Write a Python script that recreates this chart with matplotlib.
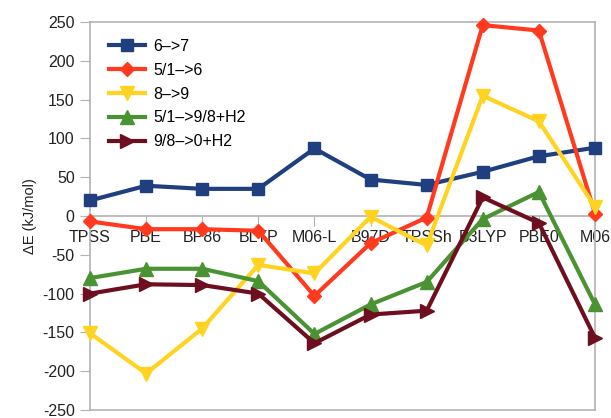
import matplotlib
matplotlib.use("Agg")
import matplotlib.pyplot as plt

plt.rcParams['font.family'] = ['Liberation Sans', 'DejaVu Sans']
plt.rcParams['axes.unicode_minus'] = False

categories = ["TPSS", "PBE", "BP86", "BLYP", "M06-L", "B97D", "TPSSh", "B3LYP", "PBE0", "M06"]
s_6_7 = [20, 39, 35, 35, 87, 47, 40, 57, 77, 88]
s_51_6 = [-7, -17, -17, -19, -103, -35, -2, 246, 239, 3]
s_8_9 = [-151, -203, -145, -63, -74, -1, -38, 155, 122, 12]
s_51_98h2 = [-80, -68, -68, -84, -152, -114, -85, -4, 31, -114]
s_98_0h2 = [-100, -88, -89, -100, -164, -127, -122, 24, -9, -157]
labels = ["6\u2013>7", "5/1\u2013>6", "8\u2013>9", "5/1\u2013>9/8+H2", "9/8\u2013>0+H2"]
yticks = [-250, -200, -150, -100, -50, 0, 50, 100, 150, 200, 250]

series = [s_6_7, s_51_6, s_8_9, s_51_98h2, s_98_0h2]
colors = ["#1f3f7f", "#ff3a1e", "#ffd320", "#4a9332", "#6e0f1f"]
markers = ["s", "D", "v", "^", ">"]
msizes = [9, 7, 10, 10, 10]

fig = plt.figure(figsize=(6.11, 4.18), dpi=100)
ax = fig.add_axes([90/611, 1 - 410/418, (595-90)/611, (410-22)/418])

x = list(range(len(categories)))
for ys, c, m, ms, lab in zip(series, colors, markers, msizes, labels):
    ax.plot(x, ys, color=c, marker=m, markersize=ms, linewidth=3, label=lab,
            clip_on=False, zorder=3)

ax.set_xlim(0, len(categories) - 1)
ax.set_ylim(-250, 250)
ax.set_yticks(yticks)
ax.set_yticklabels([str(v) for v in yticks])
ax.set_xticks(x)
ax.set_xticklabels(categories)

gray = "#b3b3b3"
for s in ax.spines.values():
    s.set_color(gray)
    s.set_linewidth(1.2)
ax.spines['bottom'].set_position(('data', 0))
ax.plot([0, 1], [0, 0], transform=ax.transAxes, color=gray, linewidth=1.2, clip_on=False, zorder=1)

ax.tick_params(axis='y', direction='out', length=7, color=gray, labelsize=11.5, pad=4, labelcolor='#222222')
ax.tick_params(axis='x', direction='out', length=7, color=gray, labelsize=11.5, pad=3, labelcolor='#222222')
for t in ax.get_xticklabels():
    t.set_zorder(4)

ax.set_ylabel("\u0394E (kJ/mol)", fontsize=10.5, labelpad=4, color='#222222')

leg = ax.legend(loc='upper left', bbox_to_anchor=(0.015, 0.985), frameon=False,
                fontsize=11.5, handlelength=2.3, labelspacing=0.55, handletextpad=0.5,
                borderaxespad=0.3)

fig.savefig("out.png", dpi=100)
